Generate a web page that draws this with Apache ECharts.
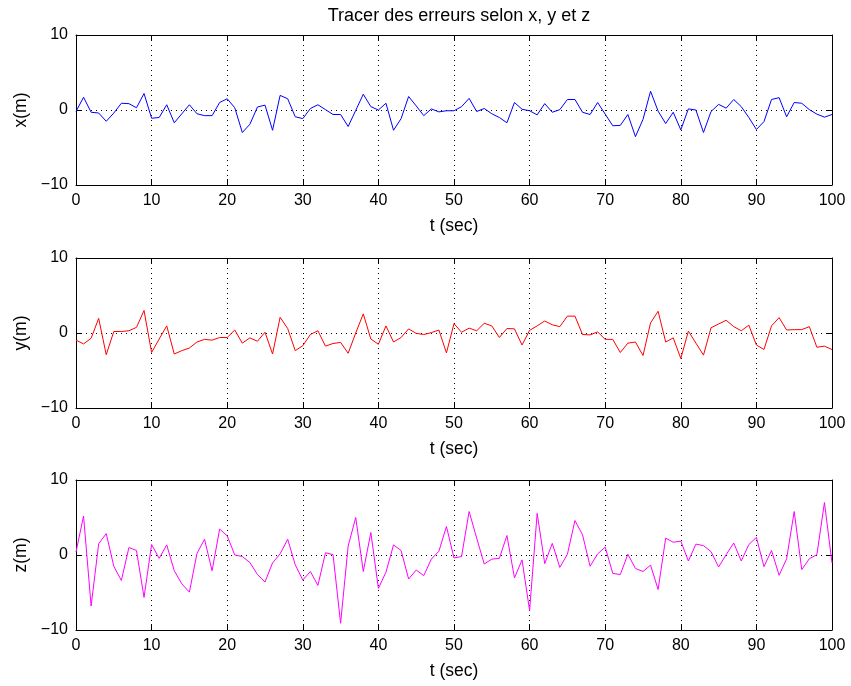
<!DOCTYPE html>
<html><head><meta charset="utf-8">
<script src="https://cdn.jsdelivr.net/npm/echarts@6/dist/echarts.min.js"></script>
<style>html,body{margin:0;padding:0;background:#fff}#c{width:851px;height:686px}</style>
</head><body><div id="c"></div>
<script>
const titleText = 'Tracer des erreurs selon x, y et z';
const xName = 't (sec)';
const yNames = ['x(m)', 'y(m)', 'z(m)'];
const xTicks = [0,10,20,30,40,50,60,70,80,90,100];
const yTicks = [-10,0,10];
const t = Array.from({length:101},(_,i)=>i);
const errX = [-0.2,1.7,-0.3,-0.4,-1.5,-0.4,0.9,0.85,0.3,2.2,
 -1.1,-1.0,0.7,-1.7,-0.5,0.7,-0.5,-0.75,-0.75,1.0,
 1.5,0.3,-3.0,-1.9,0.4,0.65,-2.7,1.95,1.5,-0.9,
 -1.15,0.2,0.7,0.05,-0.6,-0.6,-2.2,-0.05,2.1,0.45,
 0.0,0.9,-2.7,-1.15,1.8,0.55,-0.75,0.15,-0.25,-0.1,
 -0.1,0.45,1.55,-0.2,0.2,-0.5,-1.0,-1.7,1.0,0.1,
 -0.1,-0.65,0.85,-0.3,0.05,1.4,1.4,-0.3,-0.6,1.0,
 -0.55,-2.1,-2.05,-0.6,-3.55,-1.25,2.5,-0.15,-1.8,-0.3,
 -2.65,0.15,0.0,-3.0,-0.2,0.75,0.25,1.4,0.45,-1.0,
 -2.6,-1.55,1.4,1.65,-0.9,1.0,0.9,0.05,-0.55,-0.95,-0.6];
const errY = [-0.95,-1.45,-0.7,1.95,-2.9,0.2,0.2,0.3,0.75,3.0,
 -2.6,-0.8,0.95,-2.8,-2.35,-2.0,-1.2,-0.85,-0.95,-0.6,
 -0.6,0.4,-1.35,-0.65,-1.1,0.1,-2.8,2.1,0.6,-2.35,
 -1.7,-0.2,0.3,-1.75,-1.4,-1.25,-2.7,0.0,2.55,-0.8,
 -1.5,0.95,-1.2,-0.6,0.55,-0.05,-0.2,0.05,0.4,-2.65,
 1.25,0.1,0.65,0.3,1.3,0.95,-0.6,0.6,0.55,-1.6,
 0.35,0.95,1.6,1.1,0.85,2.25,2.25,-0.2,-0.25,0.15,
 -0.85,-0.85,-2.6,-1.35,-1.2,-3.0,1.35,2.9,-1.2,-0.65,
 -3.4,0.25,-1.35,-2.95,0.7,1.2,1.7,0.85,0.3,1.05,
 -1.6,-2.2,0.95,2.05,0.4,0.45,0.45,0.85,-1.9,-1.75,-2.2];
const errZ = [0.4,5.2,-6.8,1.5,2.85,-1.5,-3.4,1.0,0.6,-5.65,
 1.4,-0.45,1.35,-2.1,-3.85,-4.95,0.2,2.1,-2.1,3.45,
 2.55,0.0,-0.2,-1.0,-2.6,-3.6,-1.05,0.15,2.1,-1.3,
 -3.35,-2.2,-4.05,0.3,0.05,-9.1,1.2,5.0,-2.2,3.0,
 -4.45,-2.3,1.35,0.6,-3.2,-2.0,-2.75,-0.55,0.5,3.8,
 -0.4,-0.2,5.8,2.25,-1.2,-0.55,-0.45,2.6,-3.05,-0.65,
 -7.4,5.55,-1.15,1.55,-1.65,0.1,4.6,2.7,-1.5,0.15,
 1.05,-2.45,-2.6,0.1,-1.8,-2.2,-1.35,-4.6,2.25,1.7,
 1.85,-0.8,1.45,1.25,0.45,-1.6,0.05,1.6,-0.8,1.4,
 2.35,-1.55,0.6,-2.7,-0.5,5.8,-1.95,-0.5,0.05,7.0,-1.05];
const seriesData = [errX, errY, errZ];
const colors = ['#0000ff','#ff0000','#ff00ff'];

const font = 'Liberation Sans, Arial, Helvetica, sans-serif';
const tops = [35, 258, 480];
const H = 150;
const grids = [], xAxes = [], yAxes = [], series = [];
const fmt = v => (v < 0 ? '\u2212' + Math.abs(v) : String(v));
tops.forEach((top, i) => {
  grids.push({left: 76, width: 756, top: top, height: H, show: false});
  const common = {type:'value', gridIndex:i, axisLine:{show:true, onZero:false, lineStyle:{color:'#000', width:1}},
    axisTick:{show:true, inside:true, length:6, lineStyle:{color:'#000'}}};
  xAxes.push(Object.assign({}, common, {position:'bottom', min:0, max:100, interval:10,
    name: xName, nameLocation:'middle', nameGap: 32,
    nameTextStyle:{fontFamily:font, fontSize:17.5, color:'#000'},
    axisLabel:{fontFamily:font, fontSize:16, color:'#000', margin:8},
    splitLine:{show:true, lineStyle:{color:'#000', type:[1,4], width:1}}}));
  xAxes.push(Object.assign({}, common, {position:'top', min:0, max:100, interval:10,
    axisLabel:{show:false}, splitLine:{show:false}}));
  yAxes.push(Object.assign({}, common, {position:'left', min:-10, max:10, interval:10,
    name: yNames[i], nameLocation:'middle', nameGap: 46,
    nameTextStyle:{fontFamily:font, fontSize:17.5, color:'#000'},
    axisLabel:{fontFamily:font, fontSize:16, color:'#000', margin:8, formatter: fmt},
    splitLine:{show:true, lineStyle:{color:'#000', type:[1,4], width:1}}}));
  yAxes.push(Object.assign({}, common, {position:'right', min:-10, max:10, interval:10,
    axisLabel:{show:false}, splitLine:{show:false}}));
  series.push({type:'line', xAxisIndex:2*i, yAxisIndex:2*i, showSymbol:false, silent:true, animation:false,
    lineStyle:{color:colors[i], width:1}, itemStyle:{color:colors[i]},
    data: t.map((tt,k)=>[tt, seriesData[i][k]])});
});

const chart = echarts.init(document.getElementById('c'), null, {renderer:'canvas'});
chart.setOption({
  animation:false,
  backgroundColor:'#fff',
  title:{text:titleText, left:454, top:2, textAlign:'center', textStyle:{fontFamily:font, fontSize:18, fontWeight:'normal', color:'#000'}},
  grid: grids, xAxis: xAxes, yAxis: yAxes, series: series
});
</script></body></html>
